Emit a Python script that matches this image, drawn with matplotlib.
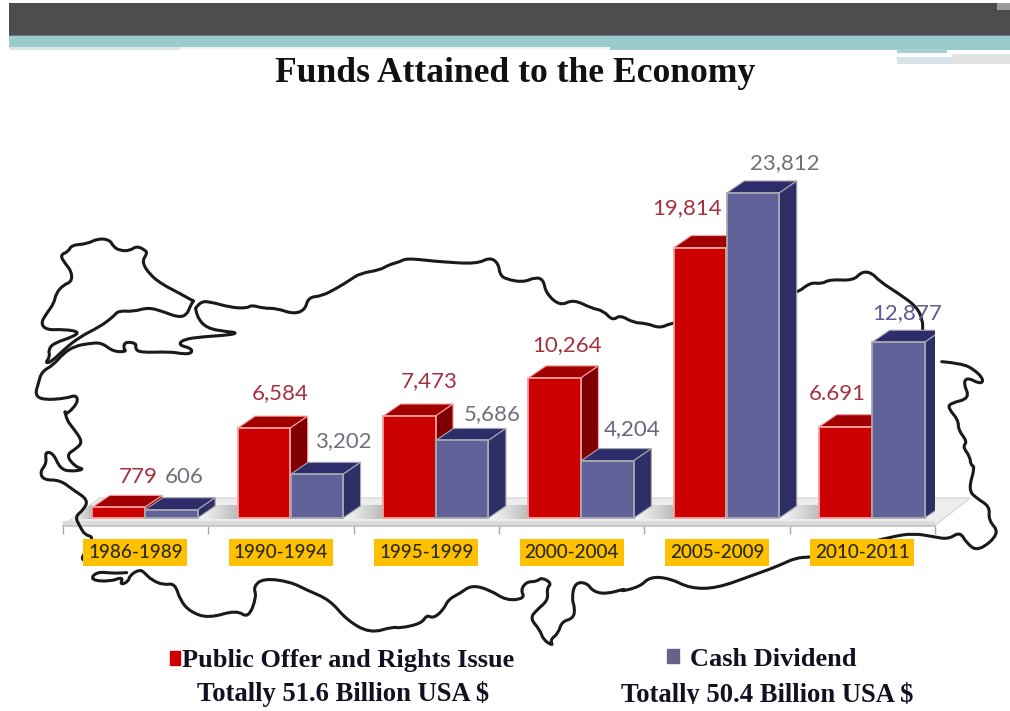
import numpy as np
import matplotlib
matplotlib.use("Agg")
import matplotlib.pyplot as plt
from matplotlib.patches import Polygon, Rectangle, Patch, PathPatch
from matplotlib.path import Path
from matplotlib.transforms import Bbox

# ---- data ----
periods = ["1986-1989", "1990-1994", "1995-1999", "2000-2004", "2005-2009", "2010-2011"]
public_offer = [779, 6584, 7473, 10264, 19814, 6691]
cash_dividend = [606, 3202, 5686, 4204, 23812, 12877]
public_labels = ["779", "6,584", "7,473", "10,264", "19,814", "6.691"]
cash_labels = ["606", "3,202", "5,686", "4,204", "23,812", "12,877"]
title = "Funds Attained to the Economy"
name_public = "Public Offer and Rights Issue"
name_cash = "Cash Dividend"
total_public = "Totally 51.6 Billion USA $"
total_cash = "Totally 50.4 Billion USA $"

# ---- label offsets from the bar's top centre, in pixels ----
public_off = [(20, 30), (16, 35), (20, 35), (12, 33), (-13, 39), (-8, 33)]
cash_off = [(13, 33), (27, 33), (30, 26), (24, 32), (32, 30), (9, 29)]

W, H = 1010, 711
fig = plt.figure(figsize=(W / 100, H / 100), dpi=100, facecolor="white")


def z(seg, ox, oy):
    return [(ox + a / 3, oy + b / 3) for a, b in seg]


def smooth(points):
    """Rounded path through the midpoints of a traced polyline."""
    p = np.asarray(points, float)
    verts = [p[0]]
    codes = [Path.MOVETO]
    for k in range(1, len(p) - 1):
        verts += [p[k], (p[k] + p[k + 1]) / 2]
        codes += [Path.CURVE3, Path.CURVE3]
    verts.append(p[-1])
    codes.append(Path.LINETO)
    return Path(verts, codes)


# ---- decoration layer in pixel coordinates ----
bg = fig.add_axes([0, 0, 1, 1], zorder=0)
bg.set_xlim(0, W)
bg.set_ylim(H, 0)
bg.axis("off")
bg.add_patch(Rectangle((9, 3), W - 9, 32, color="#4d4d4d", lw=0))
bg.add_patch(Rectangle((9, 35), W - 9, 1.2, color="#64748c", lw=0))
bg.add_patch(Rectangle((9, 36), W - 9, 11, color="#9ccbcd", lw=0))
bg.add_patch(Rectangle((9, 47), 172, 3, color="#dfe5e6", lw=0))
bg.add_patch(Rectangle((181, 47), 429, 2, color="#eef3f3", lw=0))
bg.add_patch(Rectangle((610, 47), W - 610, 2.5, color="#9ccbcd", lw=0))
bg.add_patch(Rectangle((897, 49), 50, 4, color="#a8d0d2", lw=0))
bg.add_patch(Rectangle((897, 57), 55, 7, color="#d8e4ea", lw=0))
bg.add_patch(Rectangle((952, 54), W - 952, 10, color="#e2e2e2", lw=0))
bg.add_patch(Rectangle((997, 3), 13, 7, color="#9a9a9a", lw=0))

# floor
floor = Polygon([(62.7, 525.5), (100, 498), (970, 498), (935, 525.5)], closed=True,
                fc="#ededed", ec="#d8d8d8", lw=1)
bg.add_patch(floor)
for i in range(6):
    left = 197 + 145.4 * i - 145.4
    right = left + 40
    if i == 0:
        left, right = 70, 92
    grad = np.linspace(0.98, 0.74, 32)[None, :]
    im = bg.imshow(grad, extent=(left, right, 519, 505), cmap="gray", vmin=0, vmax=1,
                   aspect="auto", zorder=1.5, interpolation="bilinear")
    im.set_clip_path(floor)
bg.add_patch(Rectangle((62.7, 521), 872.3, 5, fc="#dcdcdc", ec="none", zorder=1.6))
bg.plot([62.7, 935], [526, 526], color="#c2c2c2", lw=1.2, zorder=1.7)
bg.set_xlim(0, W)
bg.set_ylim(H, 0)

# map outline
thrace = z([(490, 243), (440, 215), (400, 195), (360, 165), (335, 125), (352, 100), (345, 90), (320, 78),
            (300, 92), (270, 92), (250, 80), (240, 60), (205, 55), (170, 72), (125, 75), (115, 95), (90, 105),
            (105, 130), (125, 155), (125, 185), (100, 195), (78, 220), (72, 250), (50, 280), (32, 310), (50, 330),
            (100, 328), (148, 335), (130, 350), (70, 370), (55, 390), (60, 410), (45, 430), (65, 425), (100, 390),
            (150, 350), (210, 320), (250, 290), (265, 272), (310, 275), (355, 262), (400, 275), (445, 292),
            (470, 285), (480, 260), (490, 243)], 30, 220)
north = z([(497, 265), (510, 245), (540, 245), (600, 262), (650, 265), (665, 255), (700, 265), (740, 265), (790, 282),
           (825, 270), (835, 232), (875, 228), (920, 205), (960, 180), (990, 160), (1050, 150), (1075, 135),
           (1110, 125), (1130, 115), (1200, 122)], 30, 220) + \
    z([(60, 95), (170, 102), (210, 82), (235, 100), (240, 135), (260, 148), (310, 157), (345, 142), (370, 148),
       (378, 190), (420, 228), (460, 208), (515, 235), (550, 242), (578, 272), (600, 255), (640, 278),
       (680, 280), (720, 295), (755, 278)], 420, 230) + \
    z([(465, 435), (510, 397), (545, 402), (570, 388), (640, 392), (665, 365), (695, 368), (720, 395),
       (775, 430), (830, 470), (848, 510), (848, 545)], 640, 150)
east = z([(185, 125), (245, 130), (285, 150), (312, 180), (300, 192), (262, 172), (250, 190), (270, 235),
          (210, 250), (205, 265), (235, 300), (235, 330), (262, 365), (248, 380), (270, 410), (272, 435),
          (285, 440), (265, 510), (290, 535)], 880, 320) + \
    z([(1110, 320), (1105, 360), (1140, 400), (1075, 455), (1040, 430), (1020, 395), (985, 418),
       (940, 410), (880, 400), (815, 410), (700, 440), (580, 472), (530, 472), (470, 500), (400, 525), (290, 565),
       (210, 565), (150, 535), (90, 530), (60, 560), (0, 575)], 620, 400) + \
    z([(680, 175), (620, 192), (580, 185), (560, 158), (525, 158), (515, 205), (525, 235), (520, 265), (485, 275),
       (475, 310), (450, 330), (460, 348), (430, 330), (420, 300), (390, 265), (410, 240), (445, 210), (440, 175),
       (455, 160), (425, 142), (410, 155), (380, 155), (362, 180), (375, 205), (320, 212), (270, 180), (215, 165),
       (180, 190), (145, 208), (130, 240), (100, 265), (80, 255), (65, 280), (0, 295)], 400, 530) + \
    z([(1090, 680), (1020, 700), (950, 660), (900, 600), (830, 570), (780, 545), (700, 535), (670, 560), (680, 590),
       (655, 655), (620, 630), (535, 655), (480, 635), (450, 600), (435, 550), (400, 555), (365, 540), (345, 520),
       (330, 508), (300, 525), (295, 545), (270, 555), (280, 530), (240, 545), (180, 540), (200, 515), (250, 520),
       (290, 518)], 30, 400)
west = z([(497, 265), (500, 290), (530, 325), (590, 335), (622, 338), (600, 345), (520, 350), (460, 358), (445, 375),
          (485, 385), (485, 400), (460, 402), (420, 395), (330, 398), (315, 385), (320, 370), (285, 365), (280, 385),
          (290, 395), (250, 395), (215, 368), (180, 370), (135, 378), (100, 400), (70, 435), (35, 455), (25, 490),
          (15, 525), (40, 540), (110, 535), (135, 525), (145, 540), (130, 565), (105, 585)], 30, 220) + \
    z([(105, 30), (110, 60), (130, 85), (158, 125), (140, 145), (108, 165), (135, 200), (165, 208), (120, 215), (90, 205),
       (70, 160), (45, 155), (50, 190), (30, 215), (40, 240), (90, 240), (130, 270), (175, 300), (160, 330), (135, 350),
       (150, 380), (165, 405), (190, 410), (175, 450), (155, 470), (160, 483), (190, 485)], 30, 400)
for seg in [thrace, north, east, west]:
    bg.add_patch(PathPatch(smooth(seg), fc="none", ec="#1a1a1a", lw=2.2, capstyle="round",
                           joinstyle="round", zorder=2))

# ---- chart axes ----
slot = 145.4
per_px = 1 / 0.01365
left_px, bottom_px, top_px = 62.7, 526, 150
ax = fig.add_axes([left_px / W, 1 - bottom_px / H, 6 * slot / W, (bottom_px - top_px) / H], zorder=1)
ax.patch.set_alpha(0)
ax.set_xlim(-0.5, 5.5)
ax.set_ylim(-8 * per_px, (518 - top_px) * per_px)
for s in ax.spines.values():
    s.set_visible(False)
ax.yaxis.set_visible(False)
ax.set_xticks(np.arange(6), periods)
ax.set_xticks(np.arange(7) - 0.5, minor=True)
ax.tick_params(axis="x", which="major", length=0, pad=13)
ax.tick_params(axis="x", which="minor", length=6, width=1, color="#a8a8a8")
for lab in ax.get_xticklabels():
    lab.set_fontfamily("Lato")
    lab.set_fontsize(13.6)
    lab.set_fontweight("medium")
    lab.set_color("#2a2a1e")
    lab.set_bbox(dict(facecolor="#FFC000", edgecolor="none", pad=3.4))

bw = 52.5 / slot
dx = 17.5 / slot
dy = 12 * per_px
x = np.arange(6)


def bars(xc, vals, front, top, side, edge, z0):
    ax.bar(xc, vals, bw, color=front, edgecolor=edge, linewidth=1.3, zorder=z0 + 0.1)
    for xi, v in zip(xc, vals):
        l, r = xi - bw / 2, xi + bw / 2
        ax.add_patch(Polygon([(l, v), (l + dx, v + dy), (r + dx, v + dy), (r, v)],
                             closed=True, fc=top, ec=edge, lw=0.8, zorder=z0))
        ax.add_patch(Polygon([(r, 0), (r + dx, dy), (r + dx, v + dy), (r, v)],
                             closed=True, fc=side, ec=edge, lw=0.8, zorder=z0))


xr = x - 16.9 / slot
xb = x + 36 / slot
bars(xr, public_offer, "#CC0000", "#A00000", "#7F0000", "#F2A0A0", 3)
bars(xb, cash_dividend, "#62629A", "#2D2D6B", "#2F2F68", "#A8A8B0", 4)


def labels(xc, vals, txts, offs, colors):
    for xi, v, t, o, c in zip(xc, vals, txts, offs, colors):
        ax.annotate(t, (xi, v), xytext=(o[0] * 0.72, o[1] * 0.72), textcoords="offset points",
                    ha="center", va="center", fontsize=16, family="Lato", color=c, zorder=6)


labels(xr, public_offer, public_labels, public_off, ["#A5303F"] * 6)
labels(xb, cash_dividend, cash_labels, cash_off,
       ["#70707C", "#70707C", "#70707C", "#666680", "#70707C", "#5C5C90"])

# ---- titles and legend ----
serif = "Liberation Serif"
fig.text(515 / W, 1 - 74 / H, title, ha="center", va="center", family=serif, weight="bold",
         fontsize=25.6, color="#111111")
fp = dict(family=serif, weight="bold", size=19)
leg1 = ax.legend(handles=[Patch(color="#CC0000", label=name_public)], loc="center left",
                 bbox_to_anchor=(170 / W, 1 - 661 / H), bbox_transform=fig.transFigure, frameon=False,
                 prop=fp, handlelength=0.36, handleheight=0.4, handletextpad=0.1, borderpad=0, borderaxespad=0)
ax.add_artist(leg1)
leg2 = ax.legend(handles=[Patch(color="#646488", label=name_cash)], loc="center left",
                 bbox_to_anchor=(667 / W, 1 - 659 / H), bbox_transform=fig.transFigure, frameon=False,
                 prop=fp, handlelength=0.44, handleheight=0.4, handletextpad=0.45, borderpad=0, borderaxespad=0)
for l in (leg1, leg2):
    for t in l.get_texts():
        t.set_color("#111122")
fig.text(343 / W, 1 - 694 / H, total_public, ha="center", va="center", family=serif, weight="bold",
         fontsize=19.2, color="#111122")
tc = fig.text(767 / W, 1 - 695 / H, total_cash, ha="center", va="center", family=serif, weight="bold",
              fontsize=19.2, color="#111122")
tc.set_clip_box(Bbox.from_extents(0, H - 704, W, H))
tc.set_clip_on(True)

fig.savefig("out.png", dpi=100)
